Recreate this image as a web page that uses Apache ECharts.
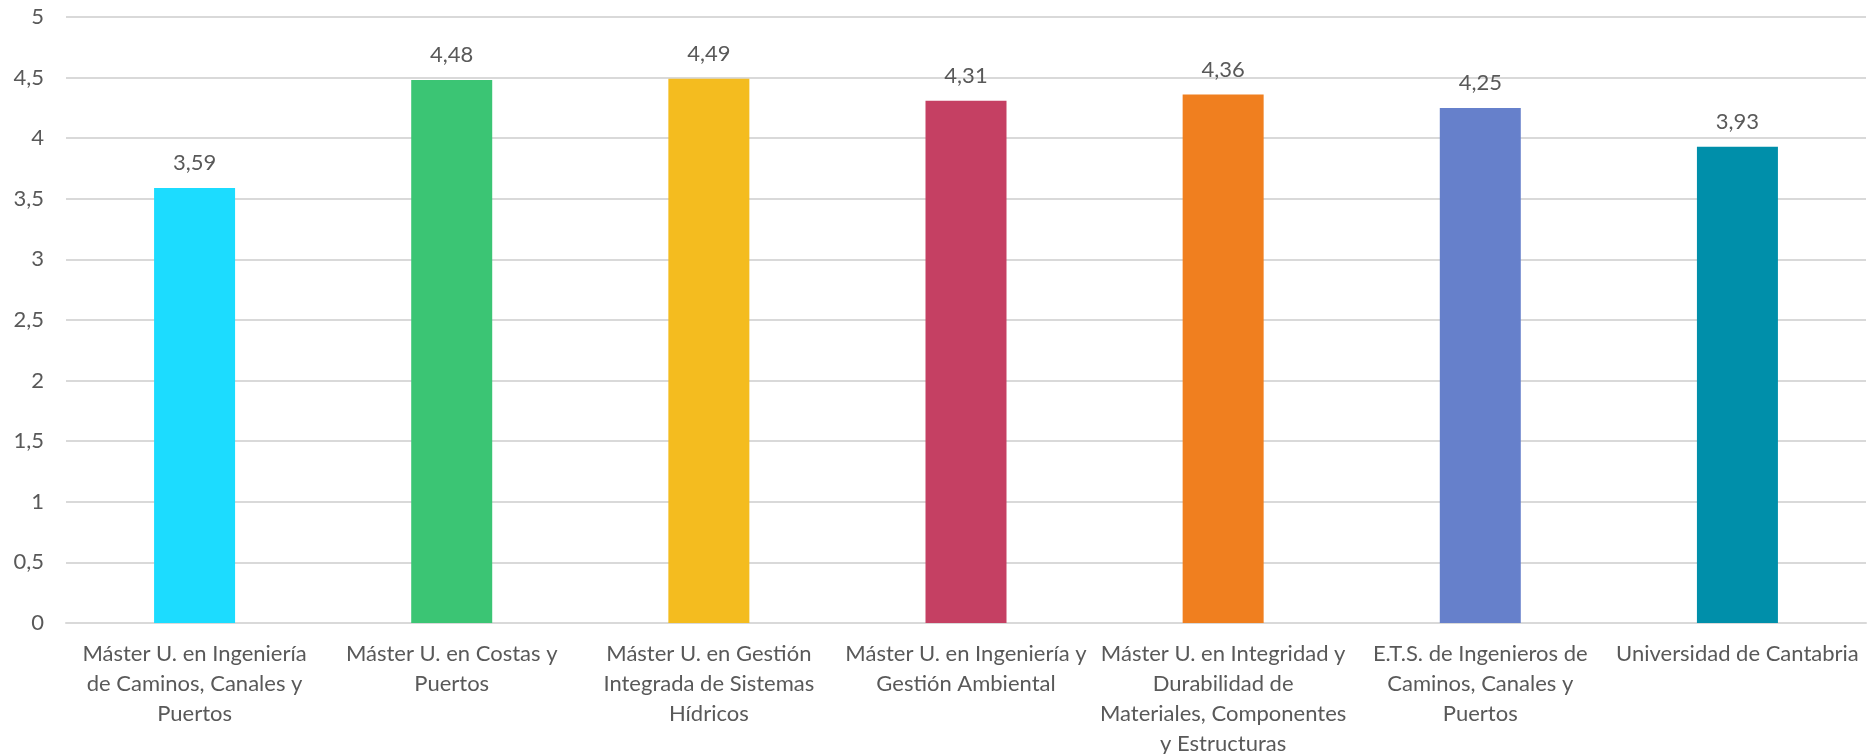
<!DOCTYPE html>
<html>
<head>
<meta charset="utf-8">
<script src="https://cdn.jsdelivr.net/npm/echarts@6/dist/echarts.min.js"></script>
<style>
html,body{margin:0;padding:0;background:#fff;}
#chart{width:1873px;height:754px;}
</style>
</head>
<body>
<div id="chart"></div>
<script>
const categories = [
  "Máster U. en Ingeniería\nde Caminos, Canales y\nPuertos",
  "Máster U. en Costas y\nPuertos",
  "Máster U. en Gestión\nIntegrada de Sistemas\nHídricos",
  "Máster U. en Ingeniería y\nGestión Ambiental",
  "Máster U. en Integridad y\nDurabilidad de\nMateriales, Componentes\ny Estructuras",
  "E.T.S. de Ingenieros de\nCaminos, Canales y\nPuertos",
  "Universidad de Cantabria"
];
const values = [3.59, 4.48, 4.49, 4.31, 4.36, 4.25, 3.93];
const colors = ["#1CDCFF", "#3BC574", "#F4BC1F", "#C54063", "#F07F1F", "#6680CB", "#008FAA"];
const yTicks = [0, 0.5, 1, 1.5, 2, 2.5, 3, 3.5, 4, 4.5, 5];

const fmt = v => String(v).replace('.', ',');
const font = 'Lato, "Open Sans", sans-serif';

const chart = echarts.init(document.getElementById('chart'), null, {renderer: 'canvas'});
chart.setOption({
  animation: false,
  grid: {left: 66, right: 7, top: 17, bottom: 131, containLabel: false, outerBoundsMode: 'none'},
  xAxis: {
    type: 'category',
    data: categories,
    axisLine: {show: true, lineStyle: {color: '#d9d9d9', width: 2}},
    axisTick: {show: false},
    axisLabel: {
      color: '#595959', fontFamily: font, fontSize: 22, lineHeight: 30,
      margin: 16, interval: 0, align: 'center'
    }
  },
  yAxis: {
    type: 'value',
    min: 0, max: 5, interval: 0.5,
    axisLine: {show: false},
    axisTick: {show: false},
    splitLine: {lineStyle: {color: '#d9d9d9', width: 2}},
    axisLabel: {
      color: '#595959', fontFamily: font, fontSize: 22, margin: 22,
      formatter: v => yTicks.includes(v) ? fmt(v) : ''
    }
  },
  series: [{
    type: 'bar',
    data: values.map((v, i) => ({value: v, itemStyle: {color: colors[i]}})),
    barWidth: 81,
    label: {
      show: true, position: 'top', distance: 14,
      color: '#595959', fontFamily: font, fontSize: 22,
      formatter: p => fmt(p.value)
    }
  }]
});
</script>
</body>
</html>
